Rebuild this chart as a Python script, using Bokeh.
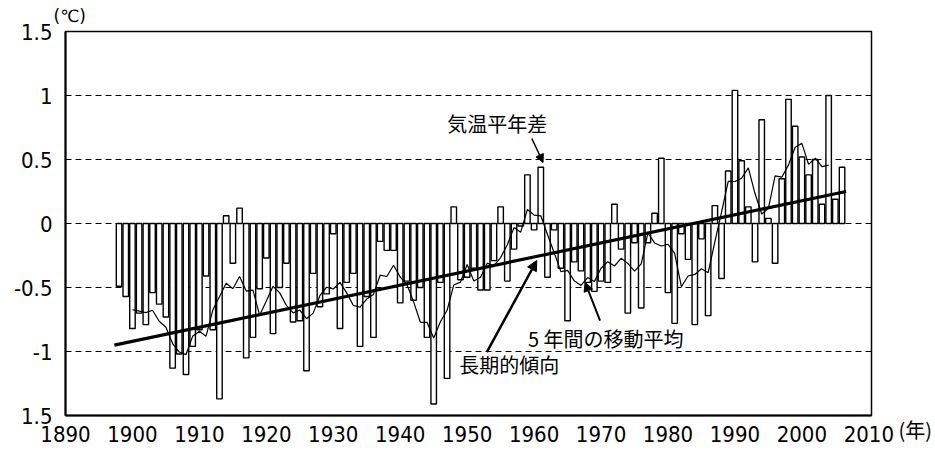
from bokeh.plotting import figure
from bokeh.models import (Range1d, FixedTicker, Label, Arrow, NormalHead,
                          ColumnDataSource, LinearAxis, Title)
from bokeh.embed import file_html
from bokeh.resources import INLINE
import pandas as pd

# Annual mean temperature anomaly (deg C), 1898-2006
years = list(range(1898, 2007))
anomaly = [
    -0.49, -0.57, -0.82, -0.70, -0.79, -0.54, -0.63, -0.73, -1.13, -1.02,
    -1.18, -0.96, -0.83, -0.41, -0.83, -1.37, 0.06, -0.31, 0.12, -1.05,
    -0.89, -0.51, -0.27, -0.86, -0.50, -0.31, -0.77, -0.76, -1.15, -0.39,
    -0.65, -0.55, -0.08, -0.82, -0.46, -0.39, -0.96, -0.57, -0.89, -0.14,
    -0.21, -0.21, -0.62, -0.45, -0.60, -0.50, -0.89, -1.41, -0.46, -1.21,
    0.13, -0.44, -0.42, -0.35, -0.52, -0.52, -0.29, 0.13, -0.45, -0.20,
    -0.02, 0.38, -0.05, 0.44, -0.42, -0.05, -0.35, -0.76, -0.30, -0.37,
    -0.46, -0.53, -0.45, -0.46, 0.15, -0.20, -0.70, -0.15, -0.66, -0.15,
    0.08, 0.51, -0.54, -0.78, -0.08, -0.28, -0.79, -0.12, -0.72, 0.14,
    -0.43, 0.41, 1.04, 0.49, 0.13, -0.30, 0.81, 0.04, -0.31, 0.35,
    0.97, 0.76, 0.52, 0.38, 0.50, 0.15, 1.00, 0.19, 0.44,
]

# Long-term linear trend (about +1.1 deg C per century)
trend_years = [1897.3, 2006.6]
trend_values = [-0.95, 0.25]

y_ticks = [-1.5, -1, -0.5, 0, 0.5, 1, 1.5]
y_tick_labels = ["1.5", "-1", "-0.5", "0", "0.5", "1", "1.5"]
x_ticks = list(range(1890, 2011, 10))

df = pd.DataFrame({"year": years, "anomaly": anomaly})
df["ma5"] = df["anomaly"].rolling(5, center=True).mean()
src = ColumnDataSource(df)
ma_src = ColumnDataSource(df.dropna())

NUM_FONT = "Liberation Sans Narrow, DejaVu Sans Condensed, Liberation Sans"
JP_FONT = "Noto Sans CJK JP"

p = figure(
    width=935, height=453,
    x_range=Range1d(1890, 2010.4), y_range=Range1d(-1.5, 1.5),
    output_backend="svg", toolbar_location=None,
    min_border_left=65, min_border_right=63,
    min_border_top=31, min_border_bottom=38,
)
p.background_fill_color = "white"
p.border_fill_color = "white"
p.outline_line_color = "black"
p.outline_line_width = 1.5

# axes
p.xaxis.ticker = FixedTicker(ticks=x_ticks)
p.yaxis.ticker = FixedTicker(ticks=y_ticks)
p.yaxis.major_label_overrides = {t: s for t, s in zip(y_ticks, y_tick_labels)}
for ax in (p.xaxis, p.yaxis):
    ax.axis_line_color = "black"
    ax.axis_line_width = 2
    ax.major_tick_out = 0
    ax.major_tick_in = 0
    ax.minor_tick_out = 0
    ax.minor_tick_in = 0
    ax.major_label_text_font = NUM_FONT
    ax.major_label_text_font_size = "22px"
    ax.major_label_text_color = "black"
p.yaxis.major_label_standoff = 13
p.xaxis.major_label_standoff = 10

# unit of the year axis, set on the right next to the last year label
unit_axis = LinearAxis(
    ticker=FixedTicker(ticks=[-1.5]),
    major_label_overrides={-1.5: "\n(年)"},
    axis_line_color=None, major_tick_out=0, major_tick_in=0,
    minor_tick_out=0, minor_tick_in=0,
    major_label_standoff=27,
    major_label_text_font=JP_FONT, major_label_text_font_size="20px",
    major_label_text_line_height=2.3, major_label_text_color="black",
)
p.add_layout(unit_axis, "right")

# unit of the value axis
p.add_layout(Title(text="(℃)", align="left", offset=-12, standoff=8,
                   vertical_align="top",
                   text_font="DejaVu Sans", text_font_size="17px",
                   text_font_style="normal", text_color="black"), "above")

# dashed horizontal grid
p.xgrid.visible = False
p.ygrid.ticker = FixedTicker(ticks=[-1, -0.5, 0, 0.5, 1])
p.ygrid.grid_line_color = "black"
p.ygrid.grid_line_dash = "6 4"
p.ygrid.grid_line_width = 1

# anomaly bars
p.vbar(x="year", top="anomaly", bottom=0, width=0.82, source=src,
       fill_color="white", line_color="black", line_width=1.4)

# 5-year running mean
p.line(x="year", y="ma5", source=ma_src, line_color="black", line_width=1.2)

# long-term trend
p.line(x=trend_years, y=trend_values, line_color="black", line_width=3.2)

# annotations
def jp_label(text, x, y, size="20px"):
    p.add_layout(Label(x=x, y=y, text=text, text_font=JP_FONT, text_font_size=size,
                       text_align="center", text_baseline="middle", text_color="black"))

jp_label("気温平年差", 1954.5, 0.78)
jp_label("5 年間の移動平均", 1970.7, -0.90)
jp_label("長期的傾向", 1956.3, -1.10)

p.add_layout(Arrow(end=NormalHead(size=8, fill_color="black", line_color="black"),
                   x_start=1959.66, y_start=0.664, x_end=1961.34, y_end=0.477,
                   line_color="black", line_width=1.5))
p.add_layout(Arrow(end=NormalHead(size=9, fill_color="black", line_color="black"),
                   x_start=1969.85, y_start=-0.758, x_end=1967.61, y_end=-0.459,
                   line_color="black", line_width=2))
p.add_layout(Arrow(end=NormalHead(size=10, fill_color="black", line_color="black"),
                   x_start=1952.94, y_start=-1.005, x_end=1960.40, y_end=-0.289,
                   line_color="black", line_width=2.5))

open("out.html", "w").write(file_html(p, INLINE))
